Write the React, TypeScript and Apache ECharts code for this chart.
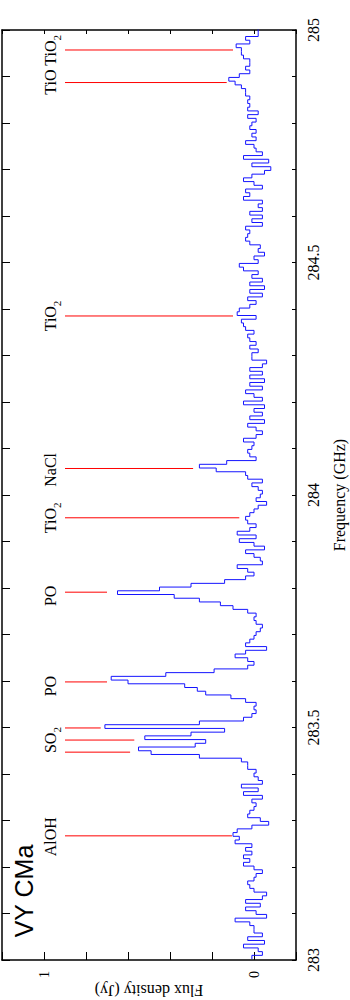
import React, { useEffect, useRef } from 'react';
import * as echarts from 'echarts';

// Spectrum: channel flux densities (Jy), channels of CHANNEL_WIDTH GHz starting at FREQ_START
const FREQ_START = 283.002;
const CHANNEL_WIDTH = 0.008;
const fluxValues = [
  0.01, -0.04, -0.02, 0.05, -0.05, 0.03, -0.04, 0.0, 0.0, 0.02,
  0.09, -0.06, -0.01, 0.04, -0.03, 0.04, -0.04, -0.06, 0.0, 0.02,
  0.03, 0.0, -0.01, -0.04, 0.0, 0.05, 0.02, 0.05, 0.01, 0.04,
  0.01, 0.09, 0.07, 0.10, 0.08, 0.01, -0.07, -0.03, 0.03, 0.02,
  0.0, -0.01, 0.01, -0.04, 0.05, -0.02, 0.06, -0.04, -0.02, 0.0,
  -0.01, 0.03, 0.03, 0.06, 0.26, 0.49, 0.55, 0.28, 0.23, 0.52,
  0.30, 0.14, 0.71, 0.26, 0.05, 0.01, -0.01, 0.0, -0.01, 0.04,
  0.11, 0.23, 0.27, 0.33, 0.60, 0.68, 0.42, 0.19, 0.03, 0.0,
  0.03, 0.09, 0.04, -0.06, 0.04, 0.02, 0.0, -0.01, -0.03, -0.04,
  -0.01, 0.0, -0.01, 0.03, 0.10, 0.16, 0.26, 0.38, 0.65, 0.45,
  0.30, 0.14, 0.04, 0.0, 0.03, 0.08, -0.04, -0.03, 0.0, 0.04,
  -0.05, 0.0, 0.07, -0.01, 0.08, 0.02, -0.01, 0.03, 0.04, 0.02,
  0.0, -0.02, -0.06, -0.01, -0.03, -0.04, -0.02, 0.01, -0.04, 0.03,
  0.04, 0.18, 0.26, 0.13, -0.01, 0.02, 0.03, 0.01, 0.0, 0.05,
  -0.01, -0.04, -0.01, 0.03, -0.05, 0.02, -0.04, 0.0, -0.05, 0.05,
  -0.04, 0.0, 0.04, -0.04, 0.02, -0.05, 0.02, -0.04, 0.02, -0.04,
  -0.06, 0.01, 0.01, -0.02, 0.02, -0.01, 0.02, 0.03, 0.0, 0.04,
  0.05, 0.06, -0.01, 0.08, 0.07, 0.02, -0.01, 0.03, -0.04, 0.02,
  -0.05, 0.02, -0.04, 0.01, -0.02, 0.05, 0.07, -0.02, 0.0, -0.05,
  -0.02, -0.03, 0.02, 0.04, 0.03, 0.02, 0.04, -0.04, 0.01, -0.04,
  0.02, -0.04, -0.02, -0.04, 0.05, 0.02, 0.04, -0.04, 0.0, 0.05,
  0.01, -0.05, -0.08, 0.01, -0.07, 0.05, -0.04, -0.01, 0.0, 0.04,
  -0.01, 0.01, -0.01, 0.02, 0.01, -0.01, 0.03, -0.02, 0.03, 0.02,
  0.03, 0.02, 0.04, 0.04, 0.06, 0.09, 0.12, 0.07, 0.02, 0.04,
  0.02, 0.02, 0.05, 0.06, 0.06, 0.085, 0.02, 0.04, -0.02, -0.02,
];

// Line identification markers (red lines)
const MARKER_START = 0.9;
const markerFreqs = [283.267, 283.447, 283.473, 283.499, 283.598, 283.791, 283.951, 284.057, 284.385, 284.887, 284.957];
const markerEnds = [0.105, 0.59, 0.57, 0.73, 0.70, 0.70, 0.07, 0.29, 0.10, 0.13, 0.10];

// Molecule labels
const LABEL_FLUX = 0.967;
const labelTexts = ['AlOH', 'SO{s|2}', 'PO', 'PO', 'TiO{s|2}', 'NaCl', 'TiO{s|2}', 'TiO TiO{s|2}'];
const labelFreqs = [283.265, 283.473, 283.589, 283.783, 283.951, 284.054, 284.385, 284.925];

// Tick labels
const freqTickLabels = ['283', '283.5', '284', '284.5', '285'];
const fluxTickLabels = ['0', '1'];

const SERIF = '"Liberation Serif", "Times New Roman", serif';

export default function App() {
  const ref = useRef<HTMLDivElement>(null);

  useEffect(() => {
    if (!ref.current) return;
    const chart = echarts.init(ref.current, undefined, { renderer: 'svg' });

    const stepData: number[][] = [];
    fluxValues.forEach((f, i) => {
      const lo = FREQ_START + i * CHANNEL_WIDTH;
      stepData.push([f, lo], [f, lo + CHANNEL_WIDTH]);
    });

    const fmtFreq = (v: number) => {
      const s = (Math.round(v * 10) / 10).toString();
      return freqTickLabels.includes(s) ? s : '';
    };
    const fmtFlux = (v: number) => {
      const s = (Math.round(v * 10) / 10).toString();
      return fluxTickLabels.includes(s) ? s : '';
    };

    const axisLine = { show: true, onZero: false, lineStyle: { color: '#000', width: 1.5 } };

    const option: any = {
      animation: false,
      textStyle: { fontFamily: SERIF },
      grid: { left: 2, right: 54, top: 30, bottom: 40, containLabel: false },
      xAxis: [
        {
          type: 'value', position: 'bottom', inverse: true, min: -0.2, max: 1.2, interval: 0.2,
          axisLine, splitLine: { show: false },
          axisTick: { show: true, inside: true, length: 8, lineStyle: { color: '#000', width: 1 } },
          axisLabel: { show: true, rotate: 90, margin: 11, formatter: fmtFlux, color: '#000', fontFamily: SERIF, fontSize: 14 },
        },
        {
          type: 'value', position: 'top', inverse: true, min: -0.2, max: 1.2, interval: 0.2,
          axisLine, splitLine: { show: false },
          axisTick: { show: true, inside: true, length: 4, lineStyle: { color: '#000', width: 1 } },
          axisLabel: { show: false },
        },
      ],
      yAxis: [
        {
          type: 'value', position: 'right', min: 283, max: 285, interval: 0.1,
          axisLine, splitLine: { show: false },
          axisTick: { show: true, inside: true, length: 4, lineStyle: { color: '#000', width: 1 } },
          axisLabel: { show: true, rotate: 90, margin: 9, formatter: fmtFreq, color: '#000', fontFamily: SERIF, fontSize: 16 },
        },
        {
          type: 'value', position: 'left', min: 283, max: 285, interval: 0.1,
          axisLine, splitLine: { show: false },
          axisTick: { show: true, inside: true, length: 8, lineStyle: { color: '#000', width: 1 } },
          axisLabel: { show: false },
        },
      ],
      graphic: [
        {
          type: 'text', x: 24, y: 891, rotation: Math.PI / 2,
          style: { text: 'VY CMa', font: '25px "Liberation Sans", Arial, sans-serif', fill: '#000', textAlign: 'center', textVerticalAlign: 'middle', align: 'center', verticalAlign: 'middle' },
        },
        {
          type: 'text', x: 339, y: 495, rotation: Math.PI / 2,
          style: { text: 'Frequency (GHz)', font: '16px ' + SERIF, fill: '#000', textAlign: 'center', textVerticalAlign: 'middle', align: 'center', verticalAlign: 'middle' },
        },
        {
          type: 'text', x: 149, y: 990, rotation: Math.PI,
          style: { text: 'Flux density (Jy)', font: '16px ' + SERIF, fill: '#000', textAlign: 'center', textVerticalAlign: 'middle', align: 'center', verticalAlign: 'middle' },
        },
      ],
      series: [
        {
          type: 'line', xAxisIndex: 0, yAxisIndex: 0, data: stepData,
          symbol: 'none', showSymbol: false, clip: true,
          lineStyle: { color: '#1414ff', width: 1 },
        },
        {
          type: 'custom', xAxisIndex: 0, yAxisIndex: 0,
          data: markerFreqs.map((f, i) => [markerEnds[i], f]),
          encode: { x: 0, y: 1 },
          renderItem: (params: any, api: any) => {
            const s = api.coord([MARKER_START, api.value(1)]);
            const e = api.coord([api.value(0), api.value(1)]);
            return {
              type: 'line',
              shape: { x1: s[0], y1: s[1], x2: e[0], y2: e[1] },
              style: { stroke: '#ff0000', lineWidth: 1 },
            };
          },
        },
        {
          type: 'custom', xAxisIndex: 0, yAxisIndex: 0,
          data: labelFreqs.map((f, i) => [LABEL_FLUX, f, i]),
          encode: { x: 0, y: 1 },
          renderItem: (params: any, api: any) => {
            const p = api.coord([api.value(0), api.value(1)]);
            return {
              type: 'text',
              x: p[0], y: p[1], rotation: Math.PI / 2,
              style: {
                legacy: false,
                text: labelTexts[params.dataIndex],
                fill: '#000',
                fontFamily: SERIF,
                fontSize: 16,
                lineHeight: 24,
                align: 'center',
                verticalAlign: 'middle',
                rich: { s: { fontSize: 11, lineHeight: 11, verticalAlign: 'bottom', fontFamily: SERIF, fill: '#000' } },
              },
            };
          },
        },
      ],
    };

    chart.setOption(option);
    return () => chart.dispose();
  }, []);

  return <div ref={ref} style={{ position: 'absolute', left: 0, top: 0, width: 350, height: 1000 }} />;
}
